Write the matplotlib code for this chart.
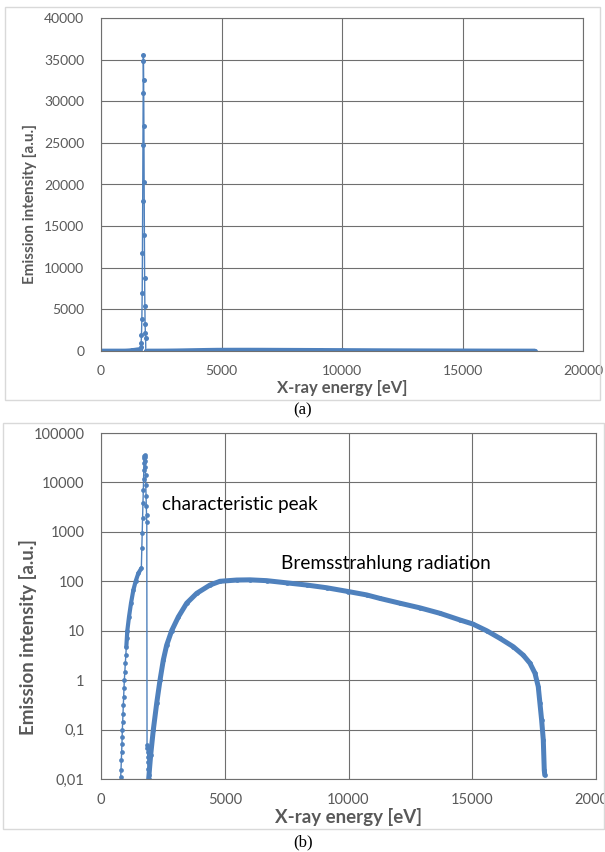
import numpy as np
import matplotlib.pyplot as plt
from matplotlib.patches import Rectangle

# --- data (X-ray energy in eV, emission intensity in a.u.) ---
E_start = [0, 200, 400, 600]
I_start = [0, 0, 0, 0]

E_low = [796, 808, 822, 835, 848, 855, 862, 876, 889, 902, 916, 929, 943, 963, 983,
         1003, 1023, 1044, 1063, 1131, 1212, 1306, 1400, 1508, 1630]
I_low = [0.011, 0.015, 0.024, 0.036, 0.052, 0.072, 0.1, 0.144, 0.21, 0.31, 0.46, 0.68, 1.0, 1.48, 2.2,
         3.2, 4.75, 7.0, 10, 19, 36, 66, 100, 145, 183]

E_peak = [1650, 1665, 1680, 1695, 1710, 1720, 1730, 1740, 1750, 1755, 1760,
          1770, 1780, 1790, 1800, 1810, 1820, 1830, 1840, 1850]
I_peak = [480, 940, 1900, 3800, 7000, 11800, 18000, 24800, 31000, 34800, 35500,
          32500, 27000, 20300, 13900, 8800, 5400, 3300, 2200, 1600]

E_dip = [1860, 1870, 1880, 1890, 1900, 1910, 1920]
I_dip = [0.049, 0.042, 0.035, 0.028, 0.022, 0.016, 0.012]

E_brems = [1926, 2008, 2115, 2250, 2384, 2518, 2653, 2855, 3124, 3461, 3865, 4404, 4808,
           5481, 6020, 6693, 7501, 8309, 9117, 9991, 10733, 11272, 12080, 12888, 13696,
           14504, 15016, 15582, 16120, 16656, 17061, 17332, 17534, 17667, 17735, 17803,
           17870, 17910, 17930]
I_brems = [0.01, 0.031, 0.1, 0.34, 1.0, 2.56, 5.1, 10, 19, 36, 57, 84, 100,
           106, 107, 103, 93, 84, 74, 62, 53, 45, 36, 29, 22.5,
           16.5, 13.7, 10, 7.0, 4.75, 3.2, 2.2, 1.38, 0.74, 0.34, 0.156,
           0.062, 0.015, 0.012]

E_end = [18000]
I_end = [0]

E = np.array(E_start + E_low + E_peak + E_dip + E_brems + E_end, dtype=float)
I = np.array(I_start + I_low + I_peak + I_dip + I_brems + I_end, dtype=float)

blue = '#4f81bd'
grid_c = '#6f6f6f'
tick_c = '#595959'
plt.rcParams['font.family'] = ['Lato', 'DejaVu Sans']

fig = plt.figure(figsize=(6.05, 8.52), dpi=100)
W, H = 605.0, 852.0


def box(l, t, r, b):
    return [l / W, 1 - b / H, (r - l) / W, (b - t) / H]


# panel frames
fig.patches.append(Rectangle((5 / W, 1 - 400 / H), 595 / W, 393 / H, transform=fig.transFigure,
                             fill=False, ec='#d9d9d9', lw=1))
fig.patches.append(Rectangle((3 / W, 1 - 829 / H), 601 / W, 406 / H, transform=fig.transFigure,
                             fill=False, ec='#d9d9d9', lw=1))


def style(ax, fs):
    ax.grid(True, color=grid_c, lw=0.8)
    ax.set_axisbelow(True)
    for s in ax.spines.values():
        s.set_color(grid_c)
        s.set_linewidth(0.8)
    ax.tick_params(length=0, labelsize=fs, labelcolor=tick_c)
    ax.set_xlim(0, 20000)
    ax.set_xticks([0, 5000, 10000, 15000, 20000])


# (a) linear
ax1 = fig.add_axes(box(101, 18, 583, 351))
ax1.plot(E, I, color=blue, lw=1)
ax1.plot(E_start + E_low, I_start + I_low, color=blue, lw=3.4, solid_capstyle='round')
ax1.plot(E_brems + E_end, I_brems + I_end, color=blue, lw=3.4, solid_capstyle='round')
ax1.plot(E, I, 'o', color=blue, ms=3.6, mew=0)
style(ax1, 10)
ax1.set_ylim(0, 40000)
ax1.set_yticks(np.arange(0, 40001, 5000))
ax1.tick_params(axis='x', pad=10)
ax1.tick_params(axis='y', pad=12)
ax1.set_xlabel('X-ray energy [eV]', fontsize=12, fontweight='bold', color=tick_c)
ax1.set_ylabel('Emission intensity [a.u.]', fontsize=11, fontweight='bold', color=tick_c)
ax1.xaxis.set_label_coords(0.5, -0.088)
ax1.yaxis.set_label_coords(-0.133, 0.44)

# (b) log
ax2 = fig.add_axes(box(101, 433, 596, 779))
ax2.set_yscale('log', nonpositive='mask')
ax2.plot(E, I, color=blue, lw=1)
ax2.plot(E_brems, I_brems, color=blue, lw=3.6, solid_capstyle='round')
ax2.plot(E_low[16:], I_low[16:], color=blue, lw=3.0, solid_capstyle='round')
ax2.plot(E, I, 'o', color=blue, ms=3.4, mew=0)
style(ax2, 10.5)
ax2.set_ylim(0.01, 100000)
yt = [0.01, 0.1, 1, 10, 100, 1000, 10000, 100000]
ax2.set_yticks(yt)
ax2.set_yticklabels(['0,01', '0,1', '1', '10', '100', '1000', '10000', '100000'])
ax2.minorticks_off()
ax2.tick_params(axis='x', pad=10)
ax2.tick_params(axis='y', pad=12)
ax2.set_xticklabels(['0', '5000', '10000', '15000', '20000'])
ax2.set_xlabel('X-ray energy [eV]', fontsize=13.5, fontweight='bold', color=tick_c)
ax2.set_ylabel('Emission intensity [a.u.]', fontsize=13.5, fontweight='bold', color=tick_c)
ax2.xaxis.set_label_coords(0.5, -0.085)
ax2.yaxis.set_label_coords(-0.13, 0.41)
ax2.text(2464, 3500, 'characteristic peak', fontsize=13.6, va='center', ha='left', color='black')
ax2.text(7272, 224, 'Bremsstrahlung radiation', fontsize=13.7, va='center', ha='left', color='black')

fig.text(303 / W, 1 - 410 / H, '(a)', ha='center', va='center', fontsize=12, family='Liberation Serif')
fig.text(303 / W, 1 - 842 / H, '(b)', ha='center', va='center', fontsize=12, family='Liberation Serif')

fig.savefig('out.png', dpi=100)
